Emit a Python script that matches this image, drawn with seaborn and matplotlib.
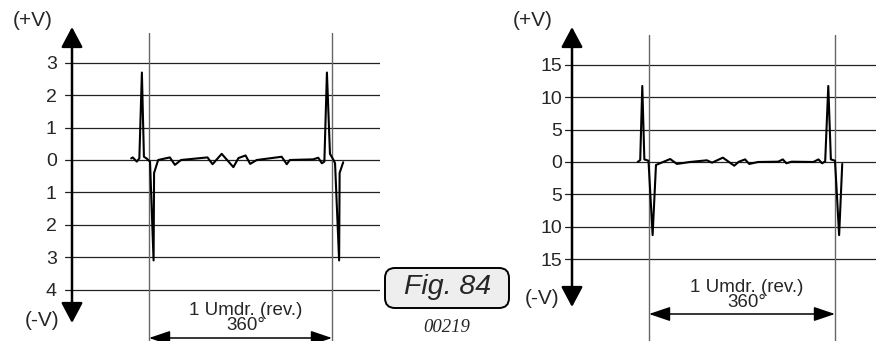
import numpy as np
import pandas as pd
import seaborn as sns
import matplotlib.pyplot as plt
from matplotlib.patches import FancyBboxPatch

sns.set_style('white')
plt.rcParams['font.family'] = ['Liberation Sans', 'DejaVu Sans']

# --- data ---
# left scope trace: angle in degrees, voltage
left_deg = [-35, -32, -24, -19, -14, -10, -5, 2, 9, 10, 18, 41, 51, 63, 115, 125,
            143, 166, 176, 190, 199, 212, 261, 271, 277, 323, 333, 340, 345, 350,
            356, 363, 366, 374, 375, 382]
left_volt = [0.05, 0.08, -0.05, 0.05, 2.7, 0.1, 0.05, -0.05, -3.1, -0.4, 0.0, 0.08,
             -0.15, 0.0, 0.08, -0.13, 0.19, -0.22, 0.06, 0.14, -0.12, 0.0, 0.1, -0.13,
             0.0, 0.02, 0.07, -0.1, -0.05, 2.7, 0.19, 0.0, -0.1, -3.1, -0.4, -0.07]
left_ticks = [3, 2, 1, 0, -1, -2, -3, -4]
left_labels = ['3', '2', '1', '0', '1', '2', '3', '4']

# right scope trace
right_deg = [-22, -17, -13, -9, -1, 7, 13.5, 41, 54, 79, 112, 122, 143, 165, 174, 186,
             194, 211, 250, 259, 266, 276, 318, 328, 335, 341, 347, 352, 360, 368, 374]
right_volt = [0.0, 0.3, 11.75, 0.4, 0.2, -11.3, -0.46, 0.46, -0.3, 0.0, 0.26, -0.1,
              0.67, -0.57, 0.05, 0.4, -0.3, 0.0, 0.05, 0.4, -0.2, 0.05, 0.0, 0.4,
              -0.2, 0.1, 11.75, 0.4, 0.2, -11.3, -0.3]
right_ticks = [15, 10, 5, 0, -5, -10, -15]
right_labels = ['15', '10', '5', '0', '5', '10', '15']

rev_label = '1 Umdr. (rev.)\n360°'

fig = plt.figure(figsize=(8.76, 3.41), dpi=100)
W, H = 876, 341


def scope(ax, deg, volt, ticks, labels, xlim, ylim, pad, yarrow, vline_top, harrow_y,
          text_y, plus_pos, minus_pos, xarrow):
    ax.set_xlim(xlim)
    ax.set_ylim(ylim)
    for s in ax.spines.values():
        s.set_visible(False)
    ax.set_xticks([])
    ax.set_yticks(ticks)
    ax.set_yticklabels(labels, fontsize=14)
    ax.tick_params(axis='y', length=0, pad=pad)
    ax.yaxis.grid(True, color='#222222', lw=0.9)

    # revolution markers
    for x in [0, 360]:
        ax.plot([x, x], [vline_top, ylim[0]], color='#666666', lw=1.0, clip_on=False)

    # signal
    df = pd.DataFrame({'deg': deg, 'volt': volt})
    sns.lineplot(data=df, x='deg', y='volt', ax=ax, color='black', lw=1.5,
                 sort=False, estimator=None)
    ax.set_xlabel('')
    ax.set_ylabel('')

    # y axis double arrow
    ax.annotate('', xy=(xarrow, yarrow[1]), xytext=(xarrow, yarrow[0]),
                arrowprops=dict(arrowstyle='<|-|>,head_length=0.62,head_width=0.33',
                                lw=1.8, color='black', mutation_scale=20,
                                shrinkA=0, shrinkB=0), annotation_clip=False)
    # revolution arrow
    ax.annotate('', xy=(360, harrow_y), xytext=(0, harrow_y),
                arrowprops=dict(arrowstyle='<|-|>,head_length=0.65,head_width=0.22',
                                lw=1.1, color='black', mutation_scale=20,
                                shrinkA=0, shrinkB=0), annotation_clip=False)
    ax.text(190, text_y, rev_label, ha='center', va='center', fontsize=13.5,
            linespacing=0.85)
    ax.text(plus_pos[0], plus_pos[1], '(+V)', ha='center', va='center', fontsize=15)
    ax.text(minus_pos[0], minus_pos[1], '(-V)', ha='center', va='center', fontsize=15)


# left scope: 0..360 deg spans px 149..332, 1 V = 32.4 px, 0 V at px 160
kx = 360 / 183
ax1 = fig.add_axes([65 / W, 0, (380 - 65) / W, 1])
scope(ax1, left_deg, left_volt, left_ticks, left_labels,
      xlim=((65 - 149) * kx, (380 - 149) * kx),
      ylim=((160 - 341) / 32.4, 160 / 32.4),
      pad=6, yarrow=((160 - 323) / 32.4, (160 - 27) / 32.4),
      vline_top=(160 - 33) / 32.4, harrow_y=(160 - 338) / 32.4,
      text_y=(160 - 318) / 32.4,
      plus_pos=((33 - 149) * kx, (160 - 21) / 32.4),
      minus_pos=((42 - 149) * kx, (160 - 321) / 32.4),
      xarrow=(72 - 149) * kx)

# right scope: 0..360 deg spans px 649..835, 5 V = 32.3 px, 0 V at px 162
kx2 = 360 / 186
ky2 = 6.47
ax2 = fig.add_axes([565 / W, 0, (876 - 565) / W, 1])
scope(ax2, right_deg, right_volt, right_ticks, right_labels,
      xlim=((565 - 649) * kx2, (876 - 649) * kx2),
      ylim=((162 - 341) / ky2, 162 / ky2),
      pad=2, yarrow=((162 - 307) / ky2, (162 - 27) / ky2),
      vline_top=(162 - 35) / ky2, harrow_y=(162 - 314) / ky2,
      text_y=(162 - 295) / ky2,
      plus_pos=((533 - 649) * kx2, (162 - 21) / ky2),
      minus_pos=((542 - 649) * kx2, (162 - 298) / ky2),
      xarrow=(572 - 649) * kx2)

# figure tag box (inches from bottom-left)
tag = FancyBboxPatch((3.85, (H - 308) / 100), 1.24, 0.40,
                     boxstyle='round,pad=0,rounding_size=0.1',
                     transform=fig.dpi_scale_trans, fc='#eeeeee', ec='black', lw=1.4)
fig.patches.append(tag)
fig.text(448 / W, 1 - 287 / H, 'Fig. 84', ha='center', va='center', fontsize=20.5,
         style='italic')
fig.text(447 / W, 1 - 327 / H, '00219', ha='center', va='center', fontsize=13.5,
         style='italic', family='Liberation Serif')

fig.savefig('out.png', dpi=100)
